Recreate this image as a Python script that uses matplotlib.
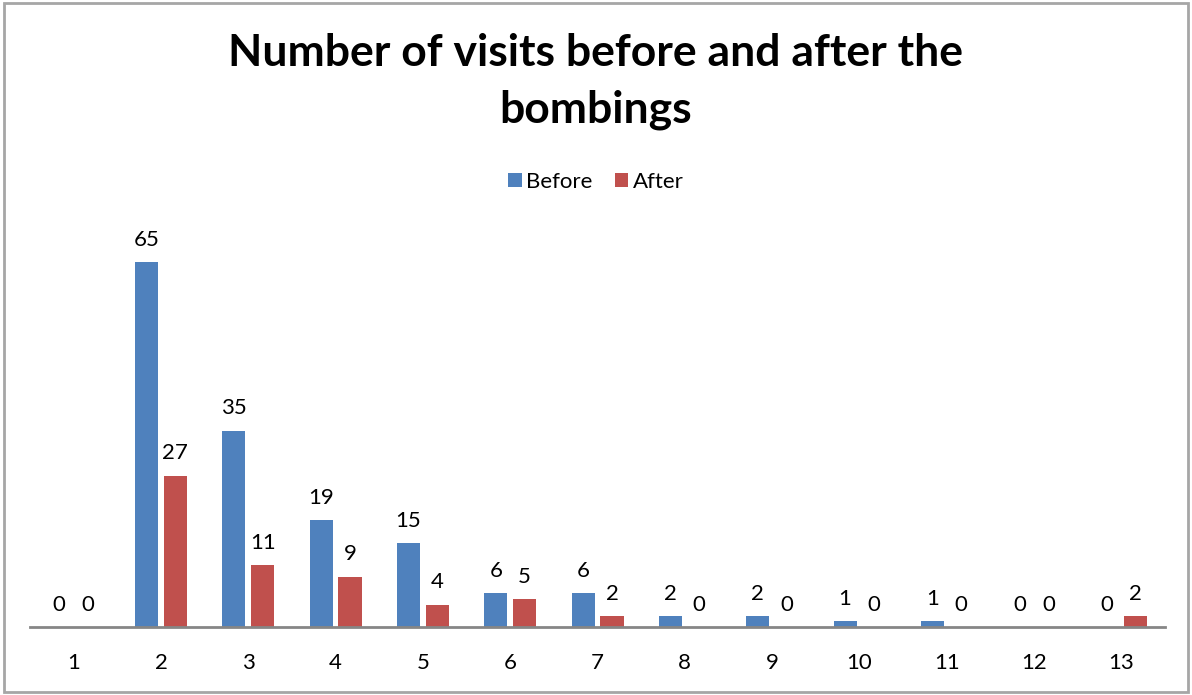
import numpy as np
import matplotlib.pyplot as plt
from matplotlib.patches import Rectangle

# DATA

categories = ["1", "2", "3", "4", "5", "6", "7", "8", "9", "10", "11", "12", "13"]
before = [0, 65, 35, 19, 15, 6, 6, 2, 2, 1, 1, 0, 0]
after = [0, 27, 11, 9, 4, 5, 2, 0, 0, 0, 0, 0, 2]

blue = "#4F81BD"
red = "#C0504D"

plt.rcParams['font.family'] = ['Lato', 'DejaVu Sans']

fig = plt.figure(figsize=(11.92, 6.95), dpi=100)
ax = fig.add_axes([0.0252, 0.0978, 0.9522, 0.565])

x = np.arange(len(categories))
w = 0.265
off = 0.165

b1 = ax.bar(x - off, before, width=w, color=blue, label="Before")
b2 = ax.bar(x + off, after, width=w, color=red, label="After")

# value labels above bars
for xi, v in zip(x - off, before):
    ax.annotate(str(v), (xi, v), xytext=(0, 16), textcoords="offset points",
                ha="center", va="center", fontsize=16)
for xi, v in zip(x + off, after):
    ax.annotate(str(v), (xi, v), xytext=(0, 16), textcoords="offset points",
                ha="center", va="center", fontsize=16)

ax.set_xlim(-0.5, len(categories) - 0.5)
ax.set_ylim(0, 70)
ax.set_xticks(x)
ax.set_xticklabels(categories, fontsize=16)
ax.tick_params(axis="x", length=0, pad=19)
ax.set_yticks([])
for s in ["top", "right", "left"]:
    ax.spines[s].set_visible(False)
ax.spines["bottom"].set_color("#868686")
ax.spines["bottom"].set_linewidth(2)

fig.text(0.5, 0.883, "Number of visits before and after the\nbombings",
         ha="center", va="center", fontsize=32, fontweight="bold",
         linespacing=1.5)

fig.legend(handles=[b1, b2], loc="center", bbox_to_anchor=(0.5, 0.738),
           ncol=2, frameon=False, fontsize=16, handlelength=0.6,
           handleheight=0.6, handletextpad=0.2, columnspacing=1.0)

fig.patches.append(Rectangle((0.003, 0.004), 0.994, 0.992, transform=fig.transFigure,
                             fill=False, edgecolor="#A6A6A6", linewidth=2))

fig.savefig("out.png", dpi=100)
